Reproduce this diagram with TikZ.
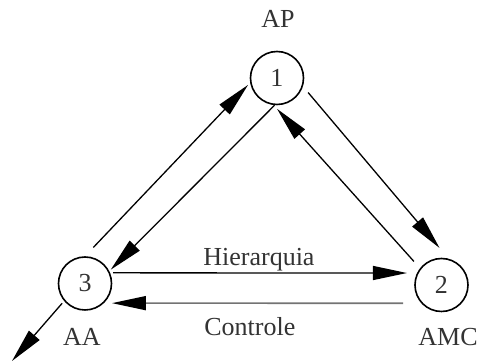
\documentclass[tikz,border=0pt]{standalone}
\usepackage{fontspec}
\setmainfont{Liberation Serif}
\usetikzlibrary{arrows.meta,positioning}
\tikzset{
	node_style/.style = {shape=circle, draw=black, line width=0.8pt, minimum size=26.5pt, inner sep=0pt, text=black!80, font=\fontsize{13}{15}\selectfont},
	label_style/.style = {text=black!80, font=\fontsize{13}{15}\selectfont},
	edge_style/.style = {draw=black, line width=0.65pt}
}

\begin{document}
\begin{tikzpicture}[
    x=0.5pt, y=-0.5pt,
    >={Triangle[length=17pt,width=7pt]},
    back_style/.style={
        draw=black!55,
        line width=0.8pt
        }]
    \useasboundingbox (0,0) rectangle (478,363);

    \node[node_style] (1) at (277,78) {1};
    \node[node_style] (2) at (441.5,285) {2};
    \node[node_style] (3) at (85,283.5) {3};

    \node[label_style] (ap) at (278,19) {AP};
    \node[label_style] (aa) at (82,337) {AA};
    \node[label_style] (amc) at (448,337) {AMC};
    \coordinate (out) at (12,361);

    \draw[edge_style, ->, shorten <=6pt, shorten >=1.5pt] (3.90) -- (1.190);
    \draw[edge_style, ->, shorten >=1pt] (1.265) -- (3.27);
    \draw[edge_style, ->, shorten <=4pt, shorten >=7pt] (1.342) -- (2.75);
    \draw[edge_style, ->, shorten <=4.5pt, shorten >=2.5pt] (2.142) -- (1.263);
    \draw[edge_style, ->, shorten <=1.5pt, shorten >=5pt] (3.23) --
        node[label_style, pos=0.485, above, inner sep=0.5pt] {Hierarquia} (2.154);
    \draw[back_style, -{Triangle[length=17pt,width=7pt,color=black]}, shorten <=9pt, shorten >=4pt] (2.222) --
        node[label_style, pos=0.54, below=6.2pt, inner sep=0.5pt] {Controle} (3.314);
    \draw[edge_style, ->, shorten <=1.5pt] (3.220) -- (out);
\end{tikzpicture}
\end{document}
